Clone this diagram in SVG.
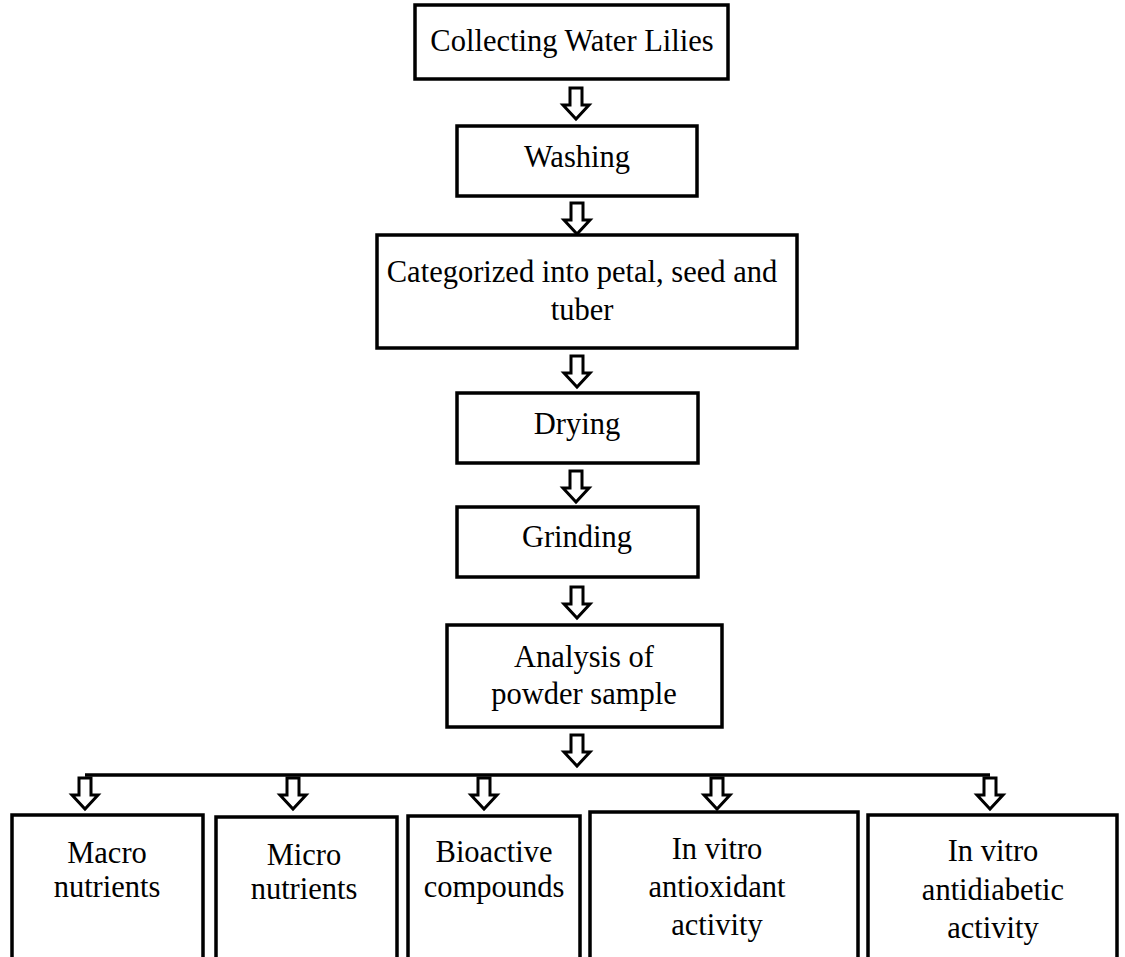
<svg xmlns="http://www.w3.org/2000/svg" width="1125" height="957" viewBox="0 0 1125 957">
<style>
.box{fill:#fff;stroke:#000;stroke-width:3.5}
.t{font-family:"Liberation Serif","Times New Roman",serif;font-size:30.5px;fill:#000;text-anchor:middle}
.arr{fill:#fff;stroke:#000;stroke-width:3;stroke-linejoin:miter}
.ln{stroke:#000;stroke-width:3.5;fill:none}
</style>
<defs>
<path id="ar" class="arr" d="M -6 0 H 6 V 17 H 13 L 0 31 L -13 17 H -6 Z"/>
</defs>
<rect width="1125" height="957" fill="#fff"/>
<g id="connectors">
<use href="#ar" x="576" y="88"/>
<use href="#ar" x="577" y="203"/>
<use href="#ar" x="577" y="356"/>
<use href="#ar" x="576" y="471"/>
<use href="#ar" x="577" y="587"/>
<use href="#ar" x="577" y="735"/>
<path class="ln" d="M 85 775 H 990"/>
<use href="#ar" x="85" y="778"/>
<use href="#ar" x="293" y="778"/>
<use href="#ar" x="484" y="778"/>
<use href="#ar" x="717" y="778"/>
<use href="#ar" x="990" y="778"/>
</g>
<g id="n1"><rect class="box" x="415" y="5" width="313" height="74"/><text class="t" x="572" y="51">Collecting Water Lilies</text></g>
<g id="n2"><rect class="box" x="457" y="126" width="240" height="70"/><text class="t" x="577" y="167">Washing</text></g>
<g id="n3"><rect class="box" x="377" y="235" width="420" height="113"/><text class="t" x="582" y="282">Categorized into petal, seed and</text><text class="t" x="582" y="320">tuber</text></g>
<g id="n4"><rect class="box" x="457" y="393" width="241" height="70"/><text class="t" x="577" y="434">Drying</text></g>
<g id="n5"><rect class="box" x="457" y="507" width="241" height="70"/><text class="t" x="577" y="547">Grinding</text></g>
<g id="n6"><rect class="box" x="447" y="625" width="275" height="102"/><text class="t" x="584" y="667">Analysis of</text><text class="t" x="584" y="704">powder sample</text></g>
<g id="n7"><path class="box" d="M 12 960 V 815 H 203 V 960"/><text class="t" x="107" y="863">Macro</text><text class="t" x="107" y="897">nutrients</text></g>
<g id="n8"><path class="box" d="M 216 960 V 817 H 397 V 960"/><text class="t" x="304" y="865">Micro</text><text class="t" x="304" y="899">nutrients</text></g>
<g id="n9"><path class="box" d="M 408 960 V 816 H 580 V 960"/><text class="t" x="494" y="862">Bioactive</text><text class="t" x="494" y="897">compounds</text></g>
<g id="n10"><path class="box" d="M 590 960 V 812 H 858 V 960"/><text class="t" x="717" y="859">In vitro</text><text class="t" x="717" y="897">antioxidant</text><text class="t" x="717" y="935">activity</text></g>
<g id="n11"><path class="box" d="M 868 960 V 815 H 1117 V 960"/><text class="t" x="993" y="861">In vitro</text><text class="t" x="993" y="900">antidiabetic</text><text class="t" x="993" y="938">activity</text></g>
</svg>
